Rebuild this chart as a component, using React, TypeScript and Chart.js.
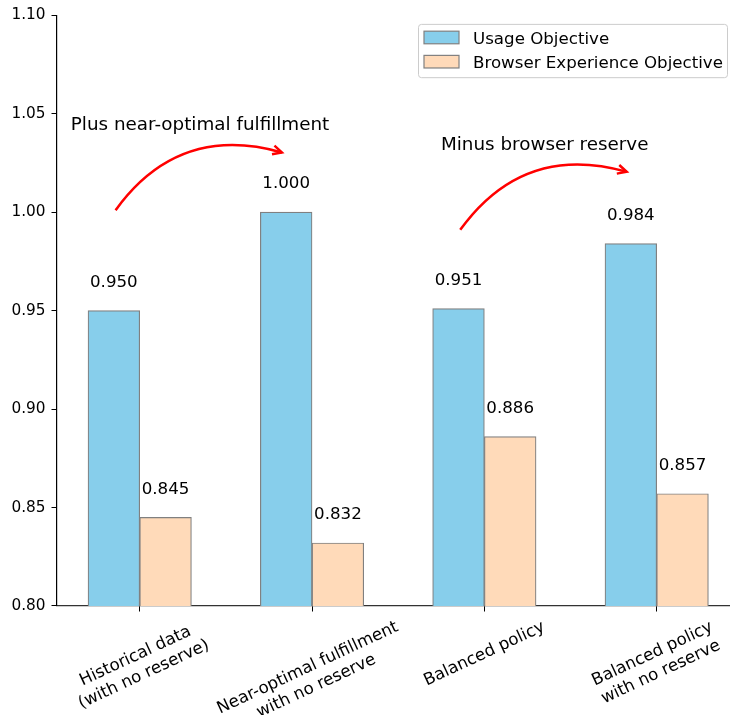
import React, { useEffect, useRef } from 'react';
import { Chart, registerables } from 'chart.js';

Chart.register(...registerables);

// ---- data ----
const CATEGORIES = [
  'Historical data\n(with no reserve)',
  'Near-optimal fulfillment\nwith no reserve',
  'Balanced policy',
  'Balanced policy\nwith no reserve',
];
const USAGE = [0.95, 1.0, 0.951, 0.984];
const BROWSER = [0.845, 0.832, 0.886, 0.857];
const SERIES_LABELS = ['Usage Objective', 'Browser Experience Objective'];
const Y_TICKS = [0.8, 0.85, 0.9, 0.95, 1.0, 1.05, 1.1];
const ANNOT_TEXT = ['Plus near-optimal fulfillment', 'Minus browser reserve'];
const ANNOT_TEXT_X = [0.35, 2.35];
const ANNOT_TEXT_Y = [1.045, 1.035];
const ARROW_FROM_X = [-0.14, 1.86];
const ARROW_FROM_Y = [1.001, 0.991];
const ARROW_TO_X = [0.825, 2.826];
const ARROW_TO_Y = [1.0303, 1.0205];
const LABEL_OFFSET = 0.01;

const FONT = '"DejaVu Sans", "Noto Sans", sans-serif';
const COLORS = ['#87CEEB', '#FFDAB9'];
const EDGE = '#808080';

function drawArrow(ctx: CanvasRenderingContext2D, sx: number, sy: number, ex: number, ey: number, rad: number) {
  const mx = (sx + ex) / 2;
  const my = (sy + ey) / 2;
  const dx = ex - sx;
  const dyUp = -(ey - sy);
  const cx = mx + rad * dyUp;
  const cy = my + rad * dx;
  ctx.beginPath();
  ctx.moveTo(sx, sy);
  ctx.quadraticCurveTo(cx, cy, ex, ey);
  ctx.stroke();
  const a = Math.atan2(ey - cy, ex - cx);
  const L = 9;
  const W = 4.5;
  const bx = ex - L * Math.cos(a);
  const by = ey - L * Math.sin(a);
  const nx = -Math.sin(a);
  const ny = Math.cos(a);
  ctx.beginPath();
  ctx.moveTo(bx + W * nx, by + W * ny);
  ctx.lineTo(ex, ey);
  ctx.lineTo(bx - W * nx, by - W * ny);
  ctx.stroke();
}

const overlayPlugin = {
  id: 'overlay',
  afterDatasetsDraw(chart: any) {
    const ctx: CanvasRenderingContext2D = chart.ctx;
    const xs = chart.scales.x;
    const ys = chart.scales.y;
    const area = chart.chartArea;
    ctx.save();

    // value labels
    const vfs = 16.67;
    ctx.font = `${vfs}px ${FONT}`;
    ctx.fillStyle = '#000';
    ctx.textAlign = 'center';
    ctx.textBaseline = 'alphabetic';
    chart.data.datasets.forEach((ds: any, di: number) => {
      const meta = chart.getDatasetMeta(di);
      meta.data.forEach((el: any, i: number) => {
        const v = ds.data[i].y;
        const y = ys.getPixelForValue(v + LABEL_OFFSET) - 0.236 * vfs;
        ctx.fillText(v.toFixed(3), el.x, y);
      });
    });

    // x tick labels (rotated, centered)
    const fs = 16.67;
    const lh = fs * 1.2;
    const th = (25 * Math.PI) / 180;
    ctx.font = `${fs}px ${FONT}`;
    ctx.textAlign = 'center';
    ctx.textBaseline = 'middle';
    CATEGORIES.forEach((lab, i) => {
      const lines = lab.split('\n');
      const W = Math.max(...lines.map((l) => ctx.measureText(l).width));
      const H = (lines.length - 1) * lh + fs * 1.16;
      const bh = W * Math.sin(th) + H * Math.cos(th);
      const px = xs.getPixelForValue(i);
      const py = area.bottom + 11.5 + bh / 2;
      ctx.save();
      ctx.translate(px, py);
      ctx.rotate(-th);
      lines.forEach((ln, k) => {
        ctx.fillText(ln, 0, (k - (lines.length - 1) / 2) * lh);
      });
      ctx.restore();
    });

    // annotations
    const afs = 18.33;
    ctx.font = `${afs}px ${FONT}`;
    ctx.textAlign = 'center';
    ctx.textBaseline = 'alphabetic';
    ANNOT_TEXT.forEach((t, i) => {
      ctx.fillStyle = '#000';
      ctx.fillText(t, xs.getPixelForValue(ANNOT_TEXT_X[i]), ys.getPixelForValue(ANNOT_TEXT_Y[i]) + 0.365 * afs);
      ctx.strokeStyle = '#ff0000';
      ctx.lineWidth = 2.5;
      ctx.lineCap = 'butt';
      ctx.lineJoin = 'miter';
      drawArrow(
        ctx,
        xs.getPixelForValue(ARROW_FROM_X[i]),
        ys.getPixelForValue(ARROW_FROM_Y[i]),
        xs.getPixelForValue(ARROW_TO_X[i]),
        ys.getPixelForValue(ARROW_TO_Y[i]),
        -0.35
      );
    });

    // legend
    const lx = 418;
    const ly = area.top + 8.7;
    const lw = 309;
    const lhh = 53.3;
    ctx.beginPath();
    (ctx as any).roundRect(lx + 0.5, ly + 0.5, lw, lhh, 3);
    ctx.fillStyle = 'rgba(255,255,255,0.8)';
    ctx.fill();
    ctx.strokeStyle = '#cccccc';
    ctx.lineWidth = 1;
    ctx.stroke();
    const lfs = 16.67;
    ctx.font = `${lfs}px ${FONT}`;
    ctx.textAlign = 'left';
    ctx.textBaseline = 'alphabetic';
    chart.data.datasets.forEach((ds: any, di: number) => {
      const cy = ly + 13.6 + di * 24.2;
      ctx.fillStyle = ds.backgroundColor;
      ctx.fillRect(lx + 6, cy - 6.3, 35, 12.6);
      ctx.strokeStyle = EDGE;
      ctx.lineWidth = 1.2;
      ctx.strokeRect(lx + 6, cy - 6.3, 35, 12.6);
      ctx.fillStyle = '#000';
      ctx.fillText(ds.label, lx + 55, cy + 0.365 * lfs);
    });

    ctx.restore();
  },
};

export default function App() {
  const ref = useRef<HTMLCanvasElement>(null);

  useEffect(() => {
    if (!ref.current) return;
    const chart = new Chart(ref.current, {
      type: 'bar',
      data: {
        datasets: [
          {
            label: SERIES_LABELS[0],
            data: USAGE.map((y, i) => ({ x: i, y })),
            backgroundColor: COLORS[0],
            borderColor: EDGE,
            borderWidth: 1.2,
            barThickness: 51.7,
          },
          {
            label: SERIES_LABELS[1],
            data: BROWSER.map((y, i) => ({ x: i, y })),
            backgroundColor: COLORS[1],
            borderColor: EDGE,
            borderWidth: 1.2,
            barThickness: 51.7,
          },
        ],
      } as any,
      options: {
        responsive: false,
        maintainAspectRatio: false,
        animation: false,
        layout: { padding: { top: 13, right: 10.6, left: 0, bottom: 0 } },
        plugins: { legend: { display: false }, tooltip: { enabled: false } },
        scales: {
          x: {
            type: 'linear',
            min: -0.48,
            max: 3.48,
            offset: false,
            grid: { display: true, offset: false, drawOnChartArea: false, drawTicks: true, tickLength: 5.5, color: '#000', lineWidth: 1 },
            border: { display: true, color: '#333', width: 1.3 },
            ticks: { display: false },
            afterBuildTicks: (s: any) => {
              s.ticks = CATEGORIES.map((_, i) => ({ value: i }));
            },
            afterFit: (s: any) => {
              s.height = 109;
            },
          },
          y: {
            type: 'linear',
            min: 0.8,
            max: 1.1,
            grid: { display: true, drawOnChartArea: false, drawTicks: true, tickLength: 5.5, color: '#000', lineWidth: 1 },
            border: { display: true, color: '#000', width: 1.2 },
            ticks: {
              color: '#000',
              padding: 6,
              font: { family: FONT, size: 15.3 },
              callback: (v: any) => Number(v).toFixed(2),
            },
            afterBuildTicks: (s: any) => {
              s.ticks = Y_TICKS.map((v) => ({ value: v }));
            },
            afterFit: (s: any) => {
              s.width = 57;
            },
          },
        },
      } as any,
      plugins: [overlayPlugin],
    });
    return () => chart.destroy();
  }, []);

  return (
    <div style={{ position: 'fixed', left: 0, top: 0, width: 730, height: 715, overflow: 'hidden', background: '#fff' }}>
      <canvas ref={ref} width={750} height={715} style={{ display: 'block' }} />
    </div>
  );
}
